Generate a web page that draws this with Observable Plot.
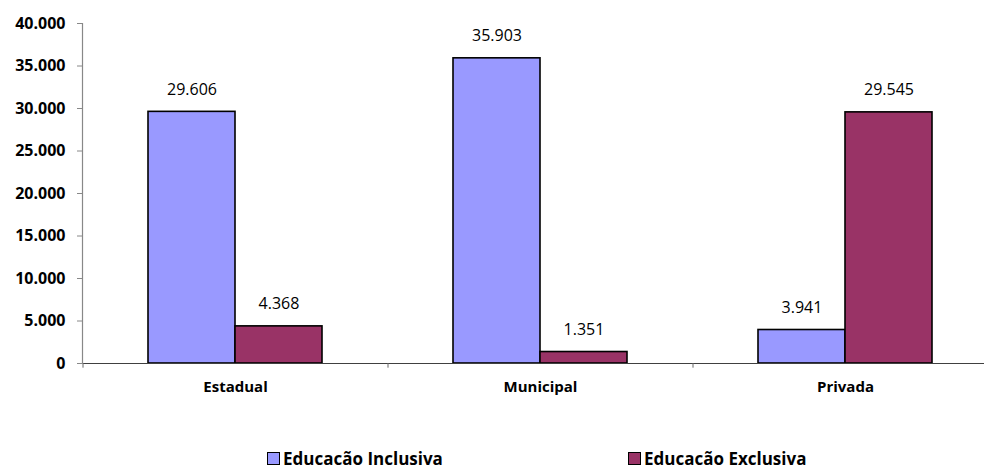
<!DOCTYPE html>
<html><head><meta charset="utf-8">
<script src="https://cdn.jsdelivr.net/npm/d3@7"></script>
<script src="https://cdn.jsdelivr.net/npm/@observablehq/plot@0.6"></script>
<style>
body{margin:0;background:#fff;font-family:"Open Sans",sans-serif;}
#wrap{position:relative;width:984px;height:472px;overflow:hidden;}
.leg{position:absolute;top:447px;display:flex;align-items:center;font-weight:bold;font-size:17px;line-height:23px;color:#000;white-space:nowrap;}
.sw{width:11px;height:11px;border:1.5px solid #000;margin-right:3px;}
</style></head><body><div id="wrap"></div>
<script>
const categories = ["Estadual", "Municipal", "Privada"];
const series = ["Educacão Inclusiva", "Educacão Exclusiva"];
const inclusiva = [29606, 35903, 3941];
const exclusiva = [4368, 1351, 29545];
const colors = ["#9999FF", "#993366"];
const yTicks = [0, 5000, 10000, 15000, 20000, 25000, 30000, 35000, 40000];

const fmt = d3.formatLocale({decimal: ",", thousands: ".", grouping: [3], currency: ["", ""]}).format(",");
const inc = categories.map((c, i) => ({cat: c, value: inclusiva[i]}));
const exc = categories.map((c, i) => ({cat: c, value: exclusiva[i]}));

const W = 984, H = 447, ML = 82, MT = 23, MB = 84;
const range = [ML, 997];
const step = (range[1] - range[0]) / categories.length;
const bw = 174, half = bw / 2;
const pIn = (step - bw) / step;

const chart = Plot.plot({
  width: W, height: H,
  marginLeft: ML, marginTop: MT, marginBottom: MB, marginRight: 0,
  style: {fontFamily: "Open Sans", fontSize: "15px", color: "#000", background: "#fff"},
  x: {domain: categories, range, paddingInner: pIn, paddingOuter: pIn / 2, axis: null},
  y: {domain: [0, 40000], axis: null},
  marks: [
    Plot.barY(inc, {x: "cat", y: "value", fill: colors[0], stroke: "#000", strokeWidth: 1.6, insetRight: half}),
    Plot.barY(exc, {x: "cat", y: "value", fill: colors[1], stroke: "#000", strokeWidth: 1.6, insetLeft: half}),
    Plot.text(inc, {x: "cat", y: "value", text: d => fmt(d.value), dx: -half / 2, dy: -22, fontSize: 16}),
    Plot.text(exc, {x: "cat", y: "value", text: d => fmt(d.value), dx: half / 2, dy: -22, fontSize: 16}),
    Plot.ruleY([0], {stroke: "#404040", strokeWidth: 1.2}),
    Plot.ruleX(categories, {x: d => d, dx: -step / 2, y1: 0, y2: -550, stroke: "#666"}),
    Plot.frame({anchor: "left", stroke: "#888", strokeWidth: 1.2}),
    Plot.axisY({ticks: yTicks, tickFormat: fmt, tickSize: 5, tickPadding: 12, fontSize: 16, fontWeight: "bold", stroke: "#888", label: null}),
    Plot.axisX({tickSize: 0, tickPadding: 18, fontSize: 15, fontWeight: "bold", label: null})
  ]
});
const wrap = document.getElementById("wrap");
wrap.appendChild(chart);

const legX = [267, 628];
series.forEach((s, i) => {
  const d = document.createElement("div");
  d.className = "leg";
  d.style.left = legX[i] + "px";
  const sw = document.createElement("span");
  sw.className = "sw";
  sw.style.background = colors[i];
  const t = document.createElement("span");
  t.textContent = s;
  d.appendChild(sw); d.appendChild(t);
  wrap.appendChild(d);
});
</script></body></html>
